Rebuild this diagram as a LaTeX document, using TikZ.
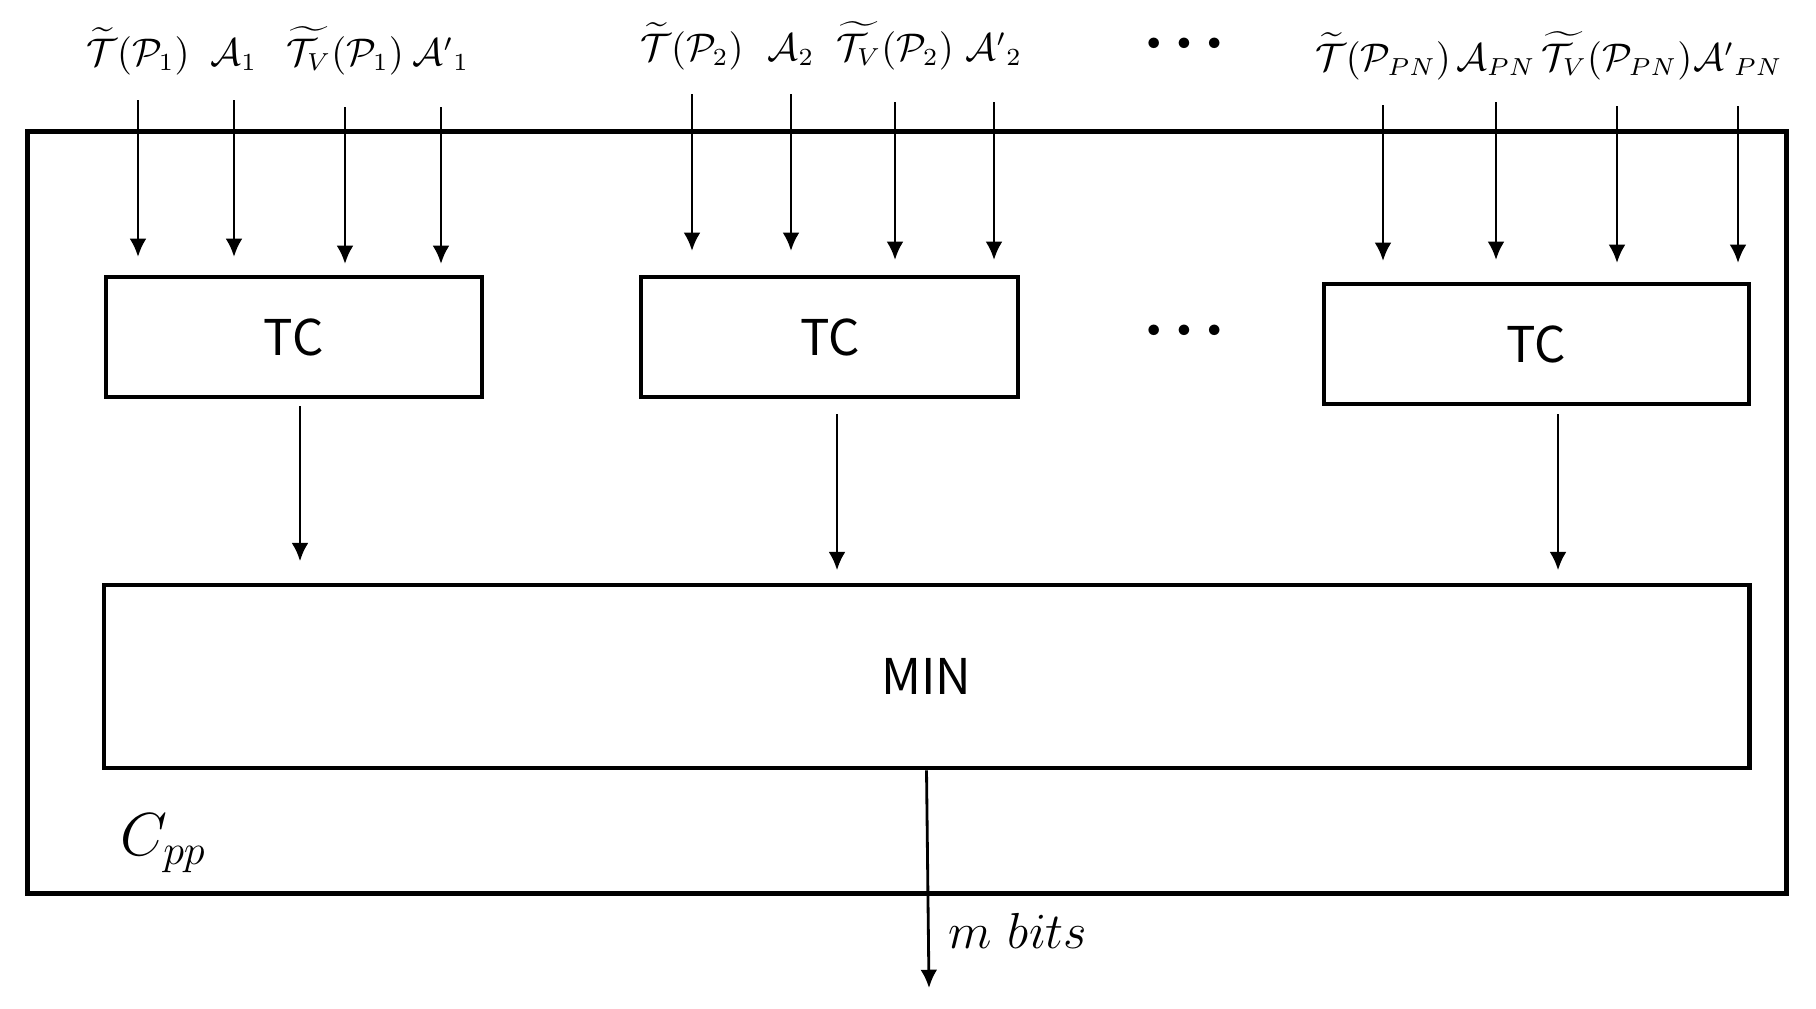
\documentclass[tikz,border=0pt]{standalone}
\usepackage{amsmath,amssymb}
\usepackage{fontspec}
\setsansfont{Noto Sans CJK SC}
\usetikzlibrary{arrows.meta}

\begin{document}
\begin{tikzpicture}[x=0.01cm,y=-0.01cm]
    % settings for this picture
    \tikzset{
      >={Latex[length=5.2pt,width=4.8pt]},
      frame/.style={draw, line width=1.4pt, inner sep=0pt},
      block/.style={draw, line width=1.15pt, inner sep=0pt, font=\sffamily\fontsize{14}{16}\selectfont},
      feed/.style={->, line width=0.8pt},
      lbl/.style={anchor=base, inner sep=0pt, font=\fontsize{10.6}{13}\selectfont},
      dots/.style={inner sep=0pt, font=\fontsize{7.5}{9}\selectfont},
    }
    \useasboundingbox (0,0) rectangle (1816,1008);

    % blocks
    \node[frame, minimum width=17.58cm, minimum height=7.62cm] (cpp) at (907,512.5) {};
    \node[block, minimum width=3.76cm, minimum height=1.2cm] (tc1) at (293.7,337) {TC};
    \node[block, minimum width=3.77cm, minimum height=1.2cm] (tc2) at (829.8,337) {TC};
    \node[block, minimum width=4.25cm, minimum height=1.2cm] (tc3) at (1536.5,344) {TC};
    \node[block, minimum width=16.45cm, minimum height=1.83cm] (min) at (926.5,676.8) {MIN};

    % inputs
    \node[lbl] (in11) at (138,65) {$\widetilde{\mathcal{T}}(\mathcal{P}_1)$};
    \node[lbl] (in12) at (234,65) {$\mathcal{A}_1$};
    \node[lbl] (in13) at (345,65) {$\widetilde{\mathcal{T}_V}(\mathcal{P}_1)$};
    \node[lbl] (in14) at (441,65) {$\mathcal{A'}_1$};
    \node[lbl] (in21) at (692,60) {$\widetilde{\mathcal{T}}(\mathcal{P}_2)$};
    \node[lbl] (in22) at (791,60) {$\mathcal{A}_2$};
    \node[lbl] (in23) at (895,60) {$\widetilde{\mathcal{T}_V}(\mathcal{P}_2)$};
    \node[lbl] (in24) at (994,60) {$\mathcal{A'}_2$};
    \node[lbl] (in31) at (1383,70) {$\widetilde{\mathcal{T}}(\mathcal{P}_{PN})$};
    \node[lbl] (in32) at (1496,70) {$\mathcal{A}_{PN}$};
    \node[lbl] (in33) at (1617,70) {$\widetilde{\mathcal{T}_V}(\mathcal{P}_{PN})$};
    \node[lbl] (in34) at (1738,70) {$\mathcal{A'}_{PN}$};

    \node[dots] (dtop) at (1184,44) {$\bullet$\hspace{4.5pt}$\bullet$\hspace{4.5pt}$\bullet$};
    \node[dots] (dmid) at (1184,331) {$\bullet$\hspace{4.5pt}$\bullet$\hspace{4.5pt}$\bullet$};

    % connections
    \draw[feed, shorten <=0.35cm, shorten >=0.18cm] (in11.base) -- (in11.base |- tc1.north);
    \draw[feed, shorten <=0.35cm, shorten >=0.18cm] (in12.base) -- (in12.base |- tc1.north);
    \draw[feed, shorten <=0.42cm, shorten >=0.11cm] (in13.base) -- (in13.base |- tc1.north);
    \draw[feed, shorten <=0.42cm, shorten >=0.11cm] (in14.base) -- (in14.base |- tc1.north);
    \draw[feed, shorten <=0.34cm, shorten >=0.24cm] (in21.base) -- (in21.base |- tc2.north);
    \draw[feed, shorten <=0.34cm, shorten >=0.24cm] (in22.base) -- (in22.base |- tc2.north);
    \draw[feed, shorten <=0.42cm, shorten >=0.15cm] (in23.base) -- (in23.base |- tc2.north);
    \draw[feed, shorten <=0.42cm, shorten >=0.15cm] (in24.base) -- (in24.base |- tc2.north);
    \draw[feed, shorten <=0.35cm, shorten >=0.21cm] (in31.base) -- (in31.base |- tc3.north);
    \draw[feed, shorten <=0.32cm, shorten >=0.22cm] (in32.base) -- (in32.base |- tc3.north);
    \draw[feed, shorten <=0.36cm, shorten >=0.19cm] (in33.base) -- (in33.base |- tc3.north);
    \draw[feed, shorten <=0.36cm, shorten >=0.19cm] (in34.base) -- (in34.base |- tc3.north);

    \draw[feed, shorten <=0.07cm, shorten >=0.22cm] ([xshift=0.063cm]tc1.south) -- ([xshift=0.063cm]tc1.south |- min.north);
    \draw[feed, shorten <=0.15cm, shorten >=0.13cm] ([xshift=0.072cm]tc2.south) -- ([xshift=0.072cm]tc2.south |- min.north);
    \draw[feed, shorten <=0.08cm, shorten >=0.13cm] ([xshift=0.215cm]tc3.south) -- ([xshift=0.215cm]tc3.south |- min.north);

    % output
    \coordinate (out) at (929,988);
    \draw[feed] (min.south) -- (out);
    \node[anchor=base west, inner sep=0pt, font=\fontsize{15}{18}\selectfont] (bits) at (948,948) {$m\ bits$};
    \node[anchor=base west, inner sep=0pt, font=\LARGE] (cpplbl) at (120,855) {$C_{pp}$};

\end{tikzpicture}
\end{document}
